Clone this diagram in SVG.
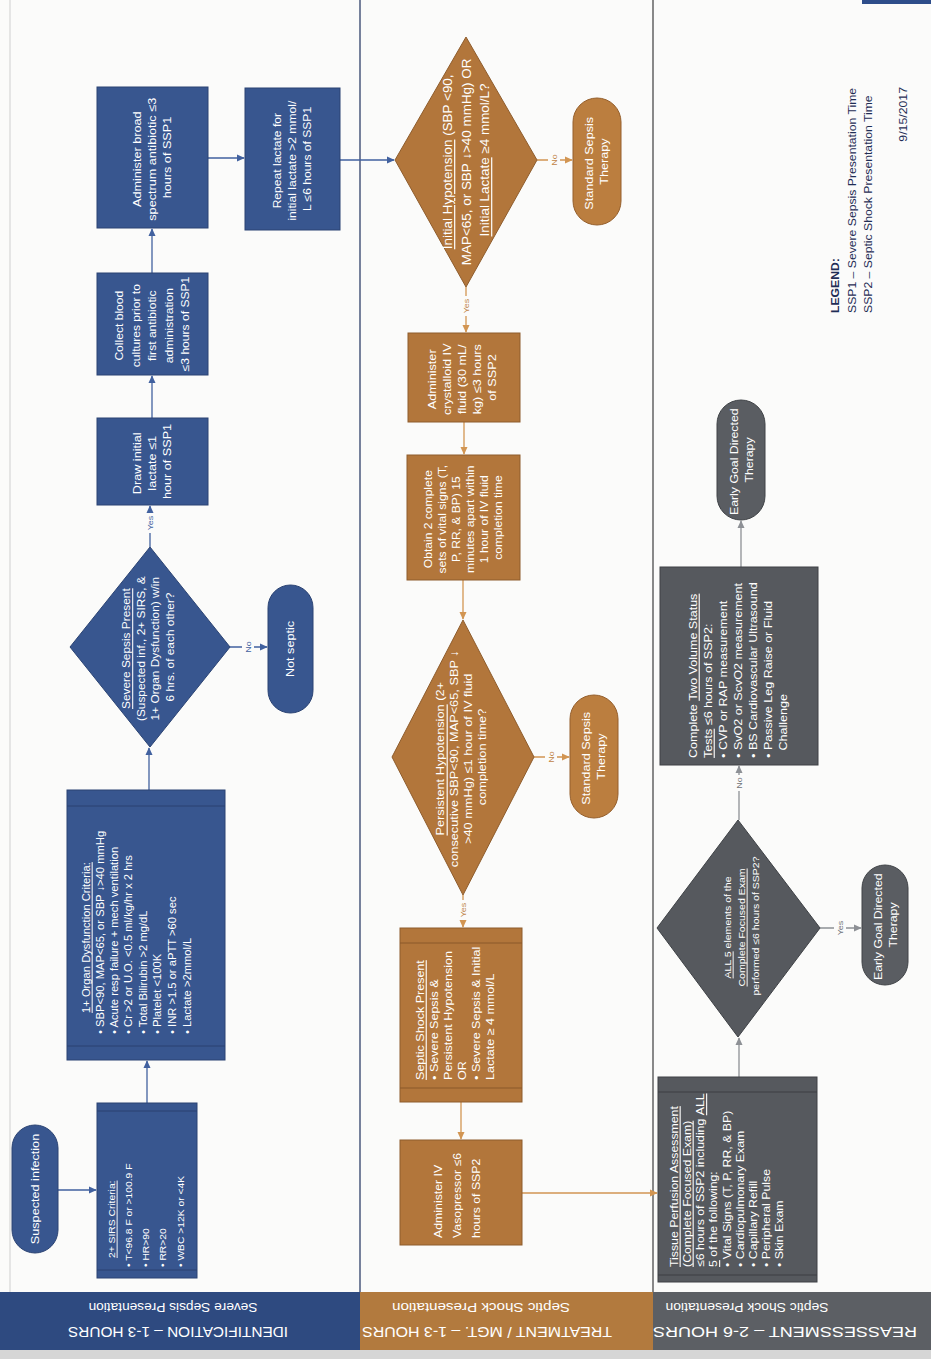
<svg xmlns="http://www.w3.org/2000/svg" width="931" height="1359" viewBox="0 0 931 1359">
<defs>
<style>
.t, .t tspan { font-family: "Liberation Sans", Arial, sans-serif; fill: #ffffff; dominant-baseline: central; }
.m { text-anchor: middle; }
.ul { text-decoration: underline; }
.bb { fill: #38568f; stroke: #2b4373; stroke-width: 1; }
.br { fill: #b2763b; stroke: #8e5c2c; stroke-width: 1; }
.bg { fill: #56595e; stroke: #3e4145; stroke-width: 1; }
.pb { fill: #38568f; stroke: #2b4373; stroke-width: 1; }
.pr { fill: #bb7e3f; stroke: #955f2c; stroke-width: 1; }
.pg { fill: #5a5d62; stroke: #404347; stroke-width: 1; }
.bandb { stroke: #2a4170; stroke-width: 1; }
.bandr { stroke: #8a582a; stroke-width: 1; }
.bandg { stroke: #3c3f43; stroke-width: 1; }
.cb { fill: none; stroke: #41619f; stroke-width: 1.3; }
.cr { fill: none; stroke: #d29552; stroke-width: 1.3; }
.cg { fill: none; stroke: #8d9095; stroke-width: 1.3; }
.lb, .lb tspan { font-family: "Liberation Sans", Arial, sans-serif; font-size: 8px; text-anchor: middle; dominant-baseline: central; }
.hd { font-family: "Liberation Sans", Arial, sans-serif; fill: #ffffff; text-anchor: middle; dominant-baseline: central; }
.lg { font-family: "Liberation Sans", Arial, sans-serif; fill: #1f2d55; dominant-baseline: central; }
</style>
<marker id="ab" viewBox="0 0 10 10" refX="9" refY="5" markerWidth="8" markerHeight="8" markerUnits="userSpaceOnUse" orient="auto"><path d="M0,0.5 L10,5 L0,9.5 z" fill="#41619f"/></marker>
<marker id="ar" viewBox="0 0 10 10" refX="9" refY="5" markerWidth="8" markerHeight="8" markerUnits="userSpaceOnUse" orient="auto"><path d="M0,0.5 L10,5 L0,9.5 z" fill="#d29552"/></marker>
<marker id="ag" viewBox="0 0 10 10" refX="9" refY="5" markerWidth="8" markerHeight="8" markerUnits="userSpaceOnUse" orient="auto"><path d="M0,0.5 L10,5 L0,9.5 z" fill="#8d9095"/></marker>
</defs>

<rect x="0" y="0" width="931" height="1359" fill="#fbfbfa"/>
<rect x="862" y="0" width="69" height="4" fill="#2e4d8a"/>

<!-- lanes -->
<g id="lanes">
<line x1="10" y1="0" x2="10" y2="1292" stroke="#cfcfcf" stroke-width="1"/>
<line x1="360" y1="0" x2="360" y2="1292" stroke="#2f3f69" stroke-width="1.3"/>
<line x1="653" y1="0" x2="653" y2="1292" stroke="#4a4a4c" stroke-width="1.3"/>
<rect x="0" y="1350" width="931" height="9" fill="#d6d6d6"/>
</g>

<g id="lane-identification">
<rect x="0" y="1292" width="360" height="58" fill="#2e4a80"/>
<g transform="rotate(180 178 1320)">
<text class="hd" x="178" y="1308" font-size="15" textLength="220" lengthAdjust="spacingAndGlyphs">IDENTIFICATION – 1-3 HOURS</text>
<text class="hd" x="183" y="1333" font-size="13.5" textLength="169" lengthAdjust="spacingAndGlyphs">Severe Sepsis Presentation</text>
</g>
</g>
<g id="lane-treatment">
<rect x="360" y="1292" width="293" height="58" fill="#b27a3e"/>
<g transform="rotate(180 487 1320)">
<text class="hd" x="487" y="1308" font-size="15" textLength="250" lengthAdjust="spacingAndGlyphs">TREATMENT / MGT. – 1-3 HOURS</text>
<text class="hd" x="493" y="1333" font-size="13.5" textLength="178" lengthAdjust="spacingAndGlyphs">Septic Shock Presentation</text>
</g>
</g>
<g id="lane-reassessment">
<rect x="653" y="1292" width="278" height="58" fill="#5c5f64"/>
<g transform="rotate(180 785 1320)">
<text class="hd" x="785" y="1308" font-size="15" textLength="264" lengthAdjust="spacingAndGlyphs">REASSESSMENT – 2-6 HOURS</text>
<text class="hd" x="823" y="1333" font-size="13.5" textLength="163" lengthAdjust="spacingAndGlyphs">Septic Shock Presentation</text>
</g>
</g>

<!-- connectors -->
<g id="connectors">
<path class="cb" d="M58,1190 H96" marker-end="url(#ab)"/>
<path class="cb" d="M147,1103 V1061" marker-end="url(#ab)"/>
<path class="cb" d="M149,790 V748" marker-end="url(#ab)"/>
<path class="cb" d="M150,547 V506" marker-end="url(#ab)"/>
<path class="cb" d="M230,647 H267" marker-end="url(#ab)"/>
<path class="cb" d="M152,418 V376" marker-end="url(#ab)"/>
<path class="cb" d="M152,273 V229" marker-end="url(#ab)"/>
<path class="cb" d="M208,158 H244" marker-end="url(#ab)"/>
<path class="cb" d="M340,160 H394" marker-end="url(#ab)"/>
<path class="cr" d="M537,160 H572" marker-end="url(#ar)"/>
<path class="cr" d="M466,287 V332" marker-end="url(#ar)"/>
<path class="cr" d="M464,422 V454" marker-end="url(#ar)"/>
<path class="cr" d="M463,580 V619" marker-end="url(#ar)"/>
<path class="cr" d="M534,757 H569" marker-end="url(#ar)"/>
<path class="cr" d="M463,895 V927" marker-end="url(#ar)"/>
<path class="cr" d="M461,1102 V1139" marker-end="url(#ar)"/>
<path class="cr" d="M522,1193 H657" marker-end="url(#ar)"/>
<path class="cg" d="M739,1077 V1038" marker-end="url(#ag)"/>
<path class="cg" d="M820,928 H861" marker-end="url(#ag)"/>
<path class="cg" d="M739,820 V766" marker-end="url(#ag)"/>
<path class="cg" d="M741,567 V521" marker-end="url(#ag)"/>

<rect x="144" y="513" width="12" height="20" fill="#fbfbfa"/>
<g transform="translate(150,523) rotate(-90) scale(1.12,1)"><text class="lb" fill="#41619f">Yes</text></g>
<rect x="242" y="639" width="12" height="16" fill="#fbfbfa"/>
<g transform="translate(248,647) rotate(-90) scale(1.12,1)"><text class="lb" fill="#41619f">No</text></g>
<rect x="548" y="152" width="12" height="16" fill="#fbfbfa"/>
<g transform="translate(554,160) rotate(-90) scale(1.12,1)"><text class="lb" fill="#c08445">No</text></g>
<rect x="460" y="296" width="12" height="20" fill="#fbfbfa"/>
<g transform="translate(466,306) rotate(-90) scale(1.12,1)"><text class="lb" fill="#c08445">Yes</text></g>
<rect x="545" y="749" width="12" height="16" fill="#fbfbfa"/>
<g transform="translate(551,757) rotate(-90) scale(1.12,1)"><text class="lb" fill="#c08445">No</text></g>
<rect x="457" y="900" width="12" height="20" fill="#fbfbfa"/>
<g transform="translate(463,910) rotate(-90) scale(1.12,1)"><text class="lb" fill="#c08445">Yes</text></g>
<rect x="834" y="918" width="12" height="20" fill="#fbfbfa"/>
<g transform="translate(840,928) rotate(-90) scale(1.12,1)"><text class="lb" fill="#6f7277">Yes</text></g>
<rect x="733" y="775" width="12" height="16" fill="#fbfbfa"/>
<g transform="translate(739,783) rotate(-90) scale(1.12,1)"><text class="lb" fill="#6f7277">No</text></g>
</g>

<!-- left lane nodes -->
<g id="n-suspected-infection">
<rect class="pb" x="12" y="1125" width="46" height="128" rx="23"/>
<g transform="translate(35,1189) rotate(-90) scale(1.12,1)"><text class="t m" font-size="11.3"><tspan x="0" y="0">Suspected infection</tspan></text></g>
</g>

<g id="n-sirs">
<rect class="bb" x="97" y="1103" width="100" height="175"/>
<line class="bandb" x1="97" y1="1111" x2="197" y2="1111"/>
<line class="bandb" x1="97" y1="1270" x2="197" y2="1270"/>
<g transform="translate(147,1190) rotate(-90) scale(1.12,1)"><text class="t" font-size="9.2">
<tspan x="-60.7" y="-36" class="ul">2+ SIRS Criteria:</tspan>
<tspan x="-68.8" y="-19">• T&lt;96.8 F or &gt;100.9 F</tspan>
<tspan x="-68.8" y="-2">• HR&gt;90</tspan>
<tspan x="-68.8" y="15">• RR&gt;20</tspan>
<tspan x="-68.8" y="33">• WBC &gt;12K or &lt;4K</tspan>
</text></g>
</g>

<g id="n-organ-dysfunction">
<rect class="bb" x="67" y="790" width="158" height="270"/>
<line class="bandb" x1="67" y1="806" x2="225" y2="806"/>
<line class="bandb" x1="67" y1="1046" x2="225" y2="1046"/>
<g transform="translate(146,925) rotate(-90) scale(1.12,1)"><text class="t" font-size="10">
<tspan x="-9.8" y="-60" class="ul" text-anchor="middle">1+ Organ Dysfunction Criteria:</tspan>
<tspan x="-97.3" y="-46">• SBP&lt;90, MAP&lt;65, or SBP ↓&gt;40 mmHg</tspan>
<tspan x="-97.3" y="-32">• Acute resp failure + mech ventilation</tspan>
<tspan x="-97.3" y="-18">• Cr &gt;2 or U.O. &lt;0.5 ml/kg/hr x 2 hrs</tspan>
<tspan x="-97.3" y="-3">• Total Bilirubin &gt;2 mg/dL</tspan>
<tspan x="-97.3" y="11">• Platelet &lt;100K</tspan>
<tspan x="-97.3" y="26">• INR &gt;1.5 or aPTT &gt;60 sec</tspan>
<tspan x="-97.3" y="41">• Lactate &gt;2mmol/L</tspan>
</text></g>
</g>

<g id="n-severe-sepsis">
<polygon class="bb" points="150,547 230,647 150,747 70,647"/>
<g transform="translate(148,647) rotate(-90) scale(1.12,1)"><text class="t m" font-size="10.6">
<tspan x="0" y="-21.5" class="ul">Severe Sepsis Present</tspan>
<tspan x="0" y="-7">(Suspected inf., 2+ SIRS, &amp;</tspan>
<tspan x="0" y="7.5">1+ Organ Dysfunction) w/in</tspan>
<tspan x="0" y="22">6 hrs. of each other?</tspan>
</text></g>
</g>

<g id="n-not-septic">
<rect class="pb" x="268" y="585" width="45" height="128" rx="22.5"/>
<g transform="translate(290.5,649) rotate(-90) scale(1.12,1)"><text class="t m" font-size="11.3"><tspan x="0" y="0">Not septic</tspan></text></g>
</g>

<g id="n-draw-lactate">
<rect class="bb" x="97" y="418" width="111" height="87"/>
<g transform="translate(152.5,461.5) rotate(-90) scale(1.12,1)"><text class="t m" font-size="11.3">
<tspan x="0" y="-15">Draw initial</tspan>
<tspan x="0" y="0">lactate ≤1</tspan>
<tspan x="0" y="15">hour of SSP1</tspan>
</text></g>
</g>

<g id="n-blood-cultures">
<rect class="bb" x="97" y="273" width="111" height="102"/>
<g transform="translate(152.5,324) rotate(-90) scale(1.12,1)"><text class="t m" font-size="10.8">
<tspan x="0" y="-33">Collect blood</tspan>
<tspan x="0" y="-16.5">cultures prior to</tspan>
<tspan x="0" y="0">first antibiotic</tspan>
<tspan x="0" y="16.5">administration</tspan>
<tspan x="0" y="33">≤3 hours of SSP1</tspan>
</text></g>
</g>

<g id="n-antibiotic">
<rect class="bb" x="97" y="87" width="111" height="141"/>
<g transform="translate(152.5,157.5) rotate(-90) scale(1.12,1)"><text class="t m" font-size="11.3">
<tspan x="0" y="-15">Administer broad</tspan>
<tspan x="0" y="0">spectrum antibiotic ≤3</tspan>
<tspan x="0" y="15">hours of SSP1</tspan>
</text></g>
</g>

<g id="n-repeat-lactate">
<rect class="bb" x="245" y="88" width="95" height="142"/>
<g transform="translate(292.5,159) rotate(-90) scale(1.12,1)"><text class="t m" font-size="10.8">
<tspan x="0" y="-15">Repeat lactate for</tspan>
<tspan x="0" y="0">initial lactate &gt;2 mmol/</tspan>
<tspan x="0" y="15">L ≤6 hours of SSP1</tspan>
</text></g>
</g>

<!-- middle lane nodes -->
<g id="n-initial-hypotension">
<polygon class="br" points="466,37 537,160 466,287 395,160"/>
<g transform="translate(466,160) rotate(-90) scale(1.12,1)"><text class="t m" font-size="12">
<tspan x="0" y="-18.5"><tspan class="ul">Initial Hypotension</tspan> (SBP &lt;90,</tspan>
<tspan x="0" y="0">MAP&lt;65, or SBP ↓&gt;40 mmHg) OR</tspan>
<tspan x="0" y="18.5"><tspan class="ul">Initial Lactate</tspan> ≥4 mmol/L?</tspan>
</text></g>
</g>

<g id="n-standard-therapy-1">
<rect class="pr" x="573" y="98" width="48" height="127" rx="24"/>
<g transform="translate(597,161.5) rotate(-90) scale(1.12,1)"><text class="t m" font-size="11.3">
<tspan x="0" y="-7.5">Standard Sepsis</tspan>
<tspan x="0" y="7.5">Therapy</tspan>
</text></g>
</g>

<g id="n-crystalloid">
<rect class="br" x="408" y="333" width="112" height="89"/>
<g transform="translate(462,377.5) rotate(-90) scale(1.12,1)"><text class="t m" font-size="11.3">
<tspan x="0" y="-30">Administer</tspan>
<tspan x="0" y="-15">crystalloid IV</tspan>
<tspan x="0" y="0">fluid (30 mL/</tspan>
<tspan x="0" y="15">kg) ≤3 hours</tspan>
<tspan x="0" y="30">of SSP2</tspan>
</text></g>
</g>

<g id="n-vital-signs">
<rect class="br" x="407" y="455" width="113" height="125"/>
<g transform="translate(463.5,517.5) rotate(-90) scale(1.12,1)"><text class="t m" font-size="10.8">
<tspan x="0" y="-35">Obtain 2 complete</tspan>
<tspan x="0" y="-21">sets of vital signs (T,</tspan>
<tspan x="0" y="-7">P, RR, &amp; BP) 15</tspan>
<tspan x="0" y="7">minutes apart within</tspan>
<tspan x="0" y="21">1 hour of IV fluid</tspan>
<tspan x="0" y="35">completion time</tspan>
</text></g>
</g>

<g id="n-persistent-hypotension">
<polygon class="br" points="463,620 534,757 463,895 392,757"/>
<g transform="translate(461,757) rotate(-90) scale(1.12,1)"><text class="t m" font-size="11.4">
<tspan x="0" y="-21"><tspan class="ul">Persistent Hypotension</tspan> (2+</tspan>
<tspan x="0" y="-7">consecutive SBP&lt;90, MAP&lt;65, SBP ↓</tspan>
<tspan x="0" y="7">&gt;40 mmHg) ≤1 hour of IV fluid</tspan>
<tspan x="0" y="21">completion time?</tspan>
</text></g>
</g>

<g id="n-standard-therapy-2">
<rect class="pr" x="570" y="695" width="48" height="123" rx="24"/>
<g transform="translate(594,756.5) rotate(-90) scale(1.12,1)"><text class="t m" font-size="11.3">
<tspan x="0" y="-7.5">Standard Sepsis</tspan>
<tspan x="0" y="7.5">Therapy</tspan>
</text></g>
</g>

<g id="n-septic-shock">
<rect class="br" x="400" y="928" width="122" height="174"/>
<line class="bandr" x1="400" y1="943" x2="522" y2="943"/>
<line class="bandr" x1="400" y1="1088" x2="522" y2="1088"/>
<g transform="translate(461,1015) rotate(-90) scale(1.12,1)"><text class="t" font-size="11.2">
<tspan x="-58" y="-41" class="ul">Septic Shock Present</tspan>
<tspan x="-58" y="-27">• Severe Sepsis &amp;</tspan>
<tspan x="-58" y="-13">Persistent Hypotension</tspan>
<tspan x="-58" y="1">OR</tspan>
<tspan x="-58" y="15">• Severe Sepsis &amp; Initial</tspan>
<tspan x="-58" y="29">Lactate ≥ 4 mmol/L</tspan>
</text></g>
</g>

<g id="n-vasopressor">
<rect class="br" x="400" y="1140" width="122" height="105"/>
<g transform="translate(461,1192.5) rotate(-90) scale(1.12,1)"><text class="t" font-size="11">
<tspan x="-40.6" y="-24">Administer IV</tspan>
<tspan x="-40.6" y="-5">Vasopressor ≤6</tspan>
<tspan x="-40.6" y="14">hours of SSP2</tspan>
</text></g>
</g>

<!-- right lane nodes -->
<g id="n-tissue-perfusion">
<rect class="bg" x="658" y="1077" width="159" height="205"/>
<line class="bandg" x1="658" y1="1092" x2="817" y2="1092"/>
<line class="bandg" x1="658" y1="1275" x2="817" y2="1275"/>
<g transform="translate(737.5,1179.5) rotate(-90) scale(1.12,1)"><text class="t" font-size="11">
<tspan x="-78.1" y="-64.5" class="ul">Tissue Perfusion Assessment</tspan>
<tspan x="-78.1" y="-51.5" class="ul">(Complete Focused Exam)</tspan>
<tspan x="-78.1" y="-38">≤6 hours of SSP2 including <tspan class="ul">ALL</tspan></tspan>
<tspan x="-78.1" y="-25"><tspan class="ul">5</tspan> of the following:</tspan>
<tspan x="-78.1" y="-11.5">• Vital Signs (T, P, RR, &amp; BP)</tspan>
<tspan x="-78.1" y="1.5">• Cardiopulmonary Exam</tspan>
<tspan x="-78.1" y="14.5">• Capillary Refill</tspan>
<tspan x="-78.1" y="28">• Peripheral Pulse</tspan>
<tspan x="-78.1" y="41">• Skin Exam</tspan>
</text></g>
</g>

<g id="n-focused-exam">
<polygon class="bg" points="738,820 820,928 738,1037 657,928"/>
<g transform="translate(741,926) rotate(-90) scale(1.12,1)"><text class="t m" font-size="9.4">
<tspan x="0" y="-14"><tspan class="ul">ALL 5</tspan> elements of the</tspan>
<tspan x="0" y="0" class="ul">Complete Focused Exam</tspan>
<tspan x="0" y="14">performed ≤6 hours of SSP2?</tspan>
</text></g>
</g>

<g id="n-egdt-1">
<rect class="pg" x="862" y="865" width="46" height="120" rx="23"/>
<g transform="translate(885,925) rotate(-90) scale(1.12,1)"><text class="t m" font-size="11">
<tspan x="0" y="-7.5">Early Goal Directed</tspan>
<tspan x="0" y="7.5">Therapy</tspan>
</text></g>
</g>

<g id="n-volume-status">
<rect class="bg" x="660" y="567" width="158" height="198"/>
<g transform="translate(739,666) rotate(-90) scale(1.12,1)"><text class="t" font-size="11.2">
<tspan x="-82.1" y="-46">Complete <tspan class="ul">Two Volume Status</tspan></tspan>
<tspan x="-82.1" y="-31"><tspan class="ul">Tests</tspan> ≤6 hours of SSP2:</tspan>
<tspan x="-82.1" y="-16">• CVP or RAP measurement</tspan>
<tspan x="-82.1" y="-1">• SvO2 or ScvO2 measurement</tspan>
<tspan x="-82.1" y="14">• BS Cardiovascular Ultrasound</tspan>
<tspan x="-82.1" y="29">• Passive Leg Raise or Fluid</tspan>
<tspan x="-75.5" y="44">Challenge</tspan>
</text></g>
</g>

<g id="n-egdt-2">
<rect class="pg" x="717" y="400" width="48" height="120" rx="24"/>
<g transform="translate(741,460) rotate(-90) scale(1.12,1)"><text class="t m" font-size="11">
<tspan x="0" y="-7.5">Early Goal Directed</tspan>
<tspan x="0" y="7.5">Therapy</tspan>
</text></g>
</g>

<g id="legend">
<g transform="translate(852,200) rotate(-90) scale(1.12,1)">
<text class="lg" font-size="10.9">
<tspan x="-100.9" y="-17" font-weight="bold">LEGEND:</tspan>
<tspan x="-100.9" y="0">SSP1 – Severe Sepsis Presentation Time</tspan>
<tspan x="-100.9" y="16">SSP2 – Septic Shock Presentation Time</tspan>
</text>
<text class="lg" font-size="11" x="100.9" y="51" text-anchor="end" fill="#222222">9/15/2017</text>
</g>
</g>
</svg>
